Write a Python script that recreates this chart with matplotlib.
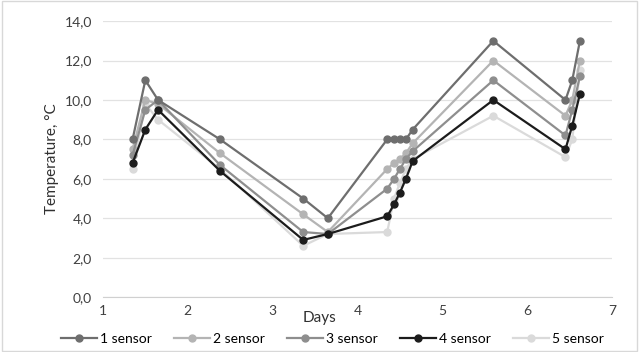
import matplotlib
matplotlib.use("Agg")
import matplotlib.pyplot as plt
from matplotlib.ticker import FuncFormatter

# days at which measurements were taken (shared by all sensors)
days = [1.35, 1.5, 1.65, 2.38, 3.36, 3.65, 4.35, 4.43, 4.5, 4.57, 4.65,
        5.6, 6.45, 6.53, 6.62]

sensor_1 = [8.0, 11.0, 10.0, 8.0, 5.0, 4.0, 8.0, 8.0, 8.0, 8.0, 8.5,
            13.0, 10.0, 11.0, 13.0]
sensor_2 = [7.5, 10.0, 9.8, 7.3, 4.2, 3.3, 6.5, 6.8, 7.0, 7.3, 7.8,
            12.0, 9.2, 10.0, 12.0]
sensor_3 = [7.2, 9.5, 10.0, 6.7, 3.3, 3.2, 5.5, 6.0, 6.5, 7.0, 7.4,
            11.0, 8.2, 9.5, 11.2]
sensor_4 = [6.8, 8.5, 9.5, 6.4, 2.9, 3.2, 4.1, 4.7, 5.3, 6.0, 6.9,
            10.0, 7.5, 8.7, 10.3]
sensor_5 = [6.5, 9.8, 9.0, 6.5, 2.6, 3.2, 3.3, 5.0, 5.8, 6.5, 7.0,
            9.2, 7.1, 8.0, 11.5]

labels = ["1 sensor", "2 sensor", "3 sensor", "4 sensor", "5 sensor"]
colors = ["#6e6e6e", "#b4b4b4", "#8e8e8e", "#1c1c1c", "#dadada"]

plt.rcParams["font.family"] = ["Lato", "DejaVu Sans"]

fig = plt.figure(figsize=(6.39, 3.52), dpi=100)
ax = fig.add_axes([0.161, 0.156, 0.797, 0.784])

series = [sensor_1, sensor_2, sensor_3, sensor_4, sensor_5]
# draw lightest first so dark lines sit on top
for i in [4, 1, 2, 0, 3]:
    ax.plot(days, series[i], color=colors[i], marker="o", markersize=5,
            linewidth=1.6, label=labels[i])

ax.set_xlim(1, 7)
ax.set_ylim(0, 14)
ax.set_yticks(range(0, 15, 2))
ax.set_xticks(range(1, 8))
ax.yaxis.set_major_formatter(FuncFormatter(lambda v, p: f"{v:.1f}".replace(".", ",")))
ax.grid(axis="y", color="#e2e2e2", linewidth=0.9)
ax.set_axisbelow(True)
for side in ["top", "right", "left"]:
    ax.spines[side].set_visible(False)
ax.spines["bottom"].set_color("#d0d0d0")
ax.tick_params(length=0, labelsize=10, colors="#404040", pad=6)
ax.tick_params(axis="y", pad=8)

ax.set_ylabel("Temperature, °C", fontsize=11, color="#303030", labelpad=4)
fig.text(0.50, 0.085, "Days", fontsize=11, color="#303030", ha="center")

handles, lbls = ax.get_legend_handles_labels()
order = [lbls.index(l) for l in labels]
fig.legend([handles[k] for k in order], labels, loc="lower center", ncol=5,
           bbox_to_anchor=(0.52, -0.015), frameon=False, fontsize=10,
           handlelength=2.6, columnspacing=1.6, handletextpad=0.2)

fig.patches.append(plt.Rectangle((0.003, 0.003), 0.994, 0.994, transform=fig.transFigure,
                                 fill=False, edgecolor="#d8d8d8", linewidth=1))

fig.savefig("out.png", dpi=100, facecolor="white")
